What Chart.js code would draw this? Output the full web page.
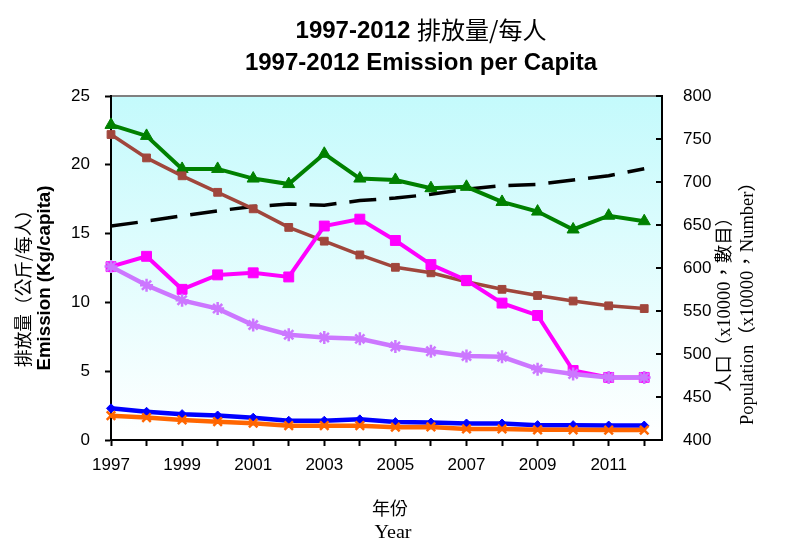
<!DOCTYPE html>
<html><head><meta charset="utf-8">
<script src="https://cdn.jsdelivr.net/npm/chart.js@4.4.1/dist/chart.umd.min.js"></script>
<style>html,body{margin:0;padding:0;background:#fff}#wrap{width:792px;height:555px;position:relative}</style>
</head><body><div id="wrap"><canvas id="c" width="792" height="555"></canvas></div>
<script>
const years = [1997,1998,1999,2000,2001,2002,2003,2004,2005,2006,2007,2008,2009,2010,2011,2012];
const seriesGreen   = [22.9,22.1,19.7,19.7,19.0,18.6,20.8,19.0,18.9,18.3,18.4,17.3,16.6,15.3,16.3,15.9];
const seriesBrown   = [22.2,20.5,19.2,18.0,16.8,15.45,14.45,13.45,12.55,12.15,11.5,10.95,10.5,10.1,9.75,9.55];
const seriesMagenta = [12.6,13.35,10.95,12.0,12.15,11.85,15.55,16.05,14.5,12.75,11.6,9.95,9.05,5.05,4.55,4.55];
const seriesViolet  = [12.6,11.25,10.15,9.55,8.35,7.65,7.45,7.35,6.8,6.45,6.1,6.05,5.15,4.8,4.55,4.55];
const seriesBlue    = [2.3,2.05,1.88,1.78,1.62,1.4,1.4,1.5,1.3,1.27,1.2,1.2,1.08,1.08,1.05,1.05];
const seriesOrange  = [1.77,1.63,1.46,1.33,1.22,1.04,1.04,1.04,0.93,0.95,0.8,0.8,0.74,0.74,0.72,0.72];
const population    = [648.9,654.4,660.7,666.5,671.4,674.4,673.1,678.4,681.3,685.7,691.6,695.8,697.3,702.4,707.2,715.5];
const leftTicks  = [0,5,10,15,20,25];
const rightTicks = [400,450,500,550,600,650,700,750,800];
const xLabelYears = [1997,1999,2001,2003,2005,2007,2009,2011];

const titleLine1a = '1997-2012 ';
const titleLine1b = '排放量/每人';
const titleLine2 = '1997-2012 Emission per Capita';
const yTitleZh = '排放量（公斤/每人）';
const yTitleEn = 'Emission (Kg/capita)';
const y2TitleZh = '人口（x10000，數目）';
const y2TitleEn = 'Population（x10000，Number）';
const xTitleZh = '年份';
const xTitleEn = 'Year';

function drawRotated(ctx, text, font, x, y, rot, target) {
  ctx.save();
  ctx.font = font;
  ctx.fillStyle = '#000';
  ctx.textAlign = 'center';
  ctx.textBaseline = 'middle';
  ctx.translate(x, y);
  ctx.rotate(rot);
  if (target) {
    const w = ctx.measureText(text).width;
    ctx.scale(target / w, 1);
  }
  ctx.fillText(text, 0, 0);
  ctx.restore();
}

const decor = {
  id: 'decor',
  beforeDraw(chart) {
    const {ctx, chartArea: a} = chart;
    const g = ctx.createLinearGradient(0, a.top, 0, a.bottom);
    g.addColorStop(0, 'rgb(196,250,252)');
    g.addColorStop(1, 'rgb(255,255,255)');
    ctx.save();
    ctx.fillStyle = g;
    ctx.fillRect(a.left, a.top, a.right - a.left, a.bottom - a.top);
    ctx.strokeStyle = '#808080';
    ctx.lineWidth = 2;
    ctx.beginPath();
    ctx.moveTo(a.left, a.top);
    ctx.lineTo(a.right, a.top);
    ctx.stroke();
    ctx.restore();
  },
  afterDraw(chart) {
    const {ctx, chartArea: a} = chart;
    const y2 = chart.scales.y2;
    ctx.save();
    ctx.strokeStyle = '#000';
    ctx.lineWidth = 2;
    rightTicks.forEach(v => {
      const py = y2.getPixelForValue(v);
      ctx.beginPath();
      ctx.moveTo(a.right, py);
      ctx.lineTo(a.right - 6, py);
      ctx.stroke();
    });
    ctx.restore();

    // Title
    ctx.save();
    ctx.fillStyle = '#000';
    ctx.textBaseline = 'middle';
    ctx.textAlign = 'left';
    const fA = "bold 24px 'Liberation Sans', Arial, sans-serif";
    const fB = "24px 'Noto Sans CJK TC', 'Noto Sans CJK SC', sans-serif";
    ctx.font = fA; const wA = ctx.measureText(titleLine1a).width;
    ctx.font = fB; const wB = ctx.measureText(titleLine1b).width;
    let sx = 421 - (wA + wB) / 2;
    ctx.font = fA; ctx.fillText(titleLine1a, sx, 31);
    ctx.font = fB; ctx.fillText(titleLine1b, sx + wA, 30);
    ctx.textAlign = 'center';
    ctx.font = fA; ctx.fillText(titleLine2, 421, 63);
    ctx.restore();

    // Axis titles
    drawRotated(ctx, yTitleZh, "18px 'Noto Sans CJK TC', 'Noto Sans CJK SC', sans-serif", 23, 284, -Math.PI / 2, 166);
    drawRotated(ctx, yTitleEn, "bold 18.5px 'Liberation Sans', Arial, sans-serif", 45, 278, -Math.PI / 2, 185);
    drawRotated(ctx, y2TitleZh, "18px 'Liberation Serif', 'Noto Sans CJK TC', serif", 725, 300, -Math.PI / 2, 184);
    drawRotated(ctx, y2TitleEn, "18px 'Liberation Serif', 'Noto Sans CJK TC', serif", 748, 299, -Math.PI / 2, 252);
    drawRotated(ctx, xTitleZh, "18px 'Noto Sans CJK TC', 'Noto Sans CJK SC', sans-serif", 390, 508, 0, 36);
    drawRotated(ctx, xTitleEn, "18px 'Liberation Serif', serif", 393, 533, 0, 37);
  }
};

const tickFont = {size: 17, family: "'Liberation Sans', Arial, sans-serif"};

const chart = new Chart(document.getElementById('c'), {
  type: 'line',
  data: {
    labels: years,
    datasets: [
      {label: 'Population', data: population, yAxisID: 'y2', borderColor: '#000', borderWidth: 3.5,
       borderDash: [27, 13], pointRadius: 0, fill: false, tension: 0, order: 7},
      {label: 'Series A', data: seriesGreen, yAxisID: 'y', borderColor: '#008000', backgroundColor: '#008000',
       borderWidth: 4, pointStyle: 'triangle', pointRadius: 7, pointBorderWidth: 1, clip: false, order: 6},
      {label: 'Series B', data: seriesBrown, yAxisID: 'y', borderColor: '#A0463C', backgroundColor: '#A0463C',
       borderWidth: 3.5, pointStyle: 'rect', pointRadius: 5.5, pointBorderWidth: 1, clip: false, order: 5},
      {label: 'Series C', data: seriesMagenta, yAxisID: 'y', borderColor: '#FF00FF', backgroundColor: '#FF00FF',
       borderWidth: 4, pointStyle: 'rect', pointRadius: 7, pointBorderWidth: 1, clip: false, order: 4},
      {label: 'Series D', data: seriesViolet, yAxisID: 'y', borderColor: '#CC77FF', backgroundColor: '#CC77FF',
       borderWidth: 4.5, pointStyle: 'star', pointRadius: 6.5, pointBorderWidth: 2.5, clip: false, order: 3},
      {label: 'Series E', data: seriesBlue, yAxisID: 'y', borderColor: '#0000FF', backgroundColor: '#0000FF',
       borderWidth: 4.5, pointStyle: 'rectRot', pointRadius: 4.5, pointBorderWidth: 1, clip: false, order: 2},
      {label: 'Series F', data: seriesOrange, yAxisID: 'y', borderColor: '#FF6600', backgroundColor: '#FF6600',
       borderWidth: 4.5, pointStyle: 'crossRot', pointRadius: 6, pointBorderWidth: 2.5, clip: false, order: 1}
    ]
  },
  options: {
    responsive: false,
    animation: false,
    devicePixelRatio: 1,
    layout: {padding: {top: 96, left: 0, right: 0, bottom: 0}},
    plugins: {legend: {display: false}, tooltip: {enabled: false}, title: {display: false}},
    elements: {line: {tension: 0}},
    scales: {
      x: {
        type: 'linear', min: 1997, max: 2012.5,
        afterFit(s) { s.height = 115; },
        afterBuildTicks(s) { s.ticks = years.map(v => ({value: v})); },
        ticks: {
          autoSkip: false, maxRotation: 0, color: '#000', font: tickFont, padding: 9,
          callback: (v) => xLabelYears.includes(v) ? String(v) : ''
        },
        grid: {drawOnChartArea: false, drawTicks: true, tickLength: 6, tickColor: '#000', tickWidth: 2},
        border: {color: '#000', width: 2}
      },
      y: {
        position: 'left', min: 0, max: 25,
        afterFit(s) { s.width = 111; },
        afterBuildTicks(s) { s.ticks = leftTicks.map(v => ({value: v})); },
        ticks: {color: '#000', font: tickFont, padding: 15},
        grid: {drawOnChartArea: false, drawTicks: true, tickLength: 6, tickColor: '#000', tickWidth: 2},
        border: {color: '#000', width: 2}
      },
      y2: {
        position: 'right', min: 400, max: 800,
        afterFit(s) { s.width = 130; },
        afterBuildTicks(s) { s.ticks = rightTicks.map(v => ({value: v})); },
        ticks: {color: '#000', font: tickFont, padding: 21},
        grid: {drawOnChartArea: false, drawTicks: false},
        border: {color: '#000', width: 2}
      }
    }
  },
  plugins: [decor]
});
</script>
</body></html>
